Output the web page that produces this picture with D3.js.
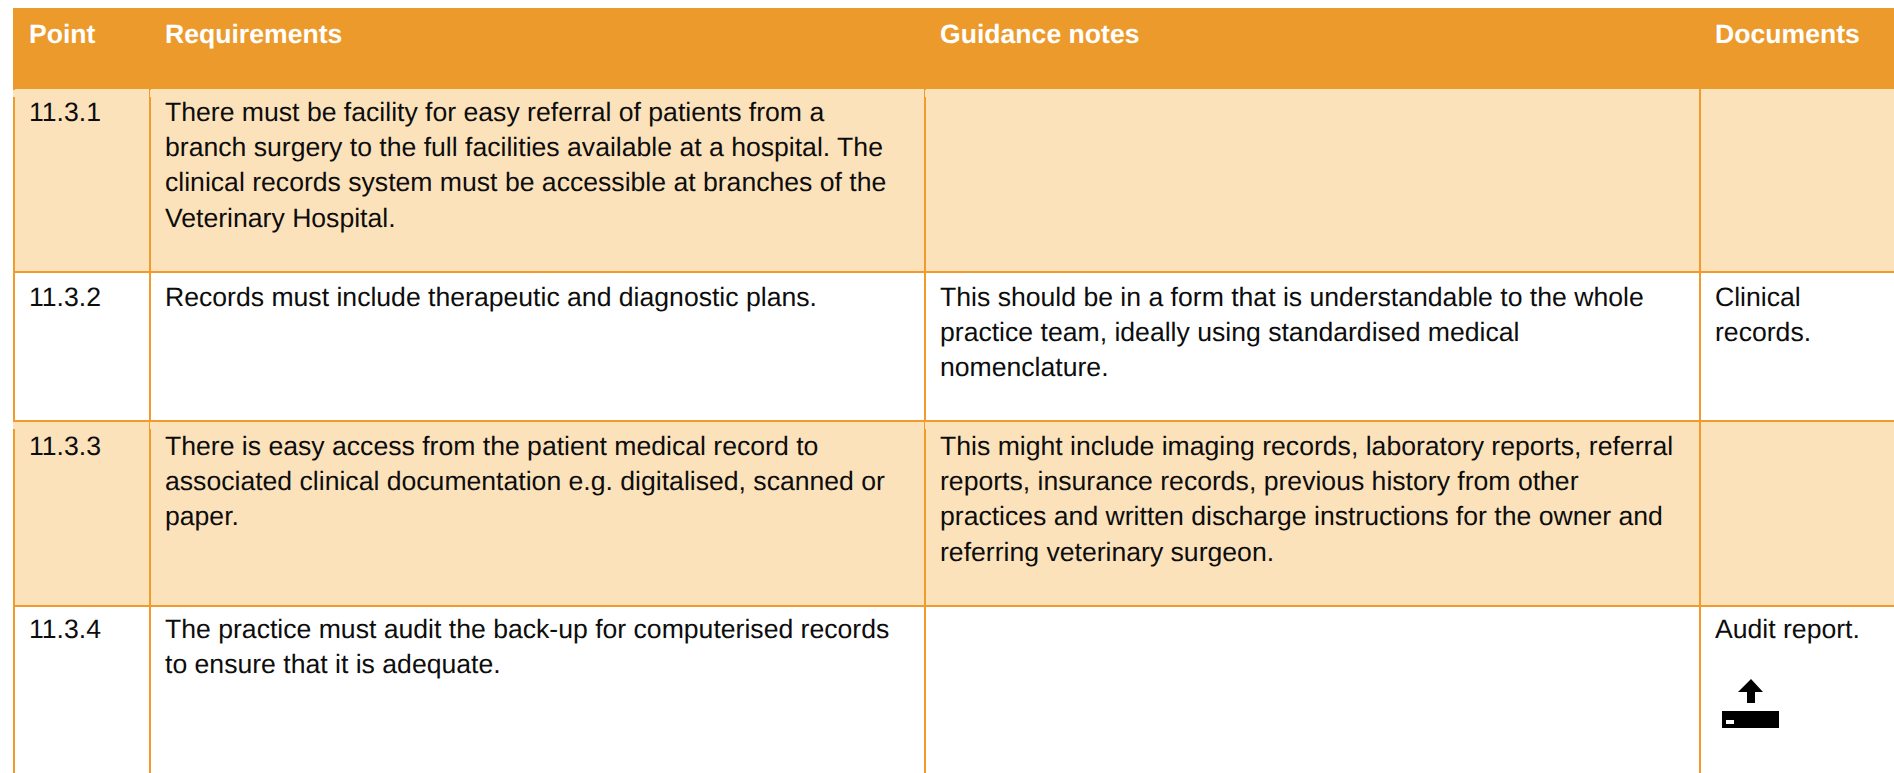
<!DOCTYPE html>
<html>
<head>
<meta charset="utf-8">
<script src="https://cdn.jsdelivr.net/npm/d3@7"></script>
<style>
html, body { margin: 0; padding: 0; background: #fff; overflow: hidden; }
text { font-family: "Liberation Sans", Arial, sans-serif; font-size: 26.6px; fill: #0d0d0d; text-rendering: geometricPrecision; }
.head { font-weight: bold; fill: #fff; }
</style>
</head>
<body>
<svg id="chart" width="1894" height="773"></svg>
<script>
const headers = ['Point', 'Requirements', 'Guidance notes', 'Documents'];
const points = ['11.3.1', '11.3.2', '11.3.3', '11.3.4'];
const requirements = [
    ['There must be facility for easy referral of patients from a', 'branch surgery to the full facilities available at a hospital. The', 'clinical records system must be accessible at branches of the', 'Veterinary Hospital.'],
    ['Records must include therapeutic and diagnostic plans.'],
    ['There is easy access from the patient medical record to', 'associated clinical documentation e.g. digitalised, scanned or', 'paper.'],
    ['The practice must audit the back-up for computerised records', 'to ensure that it is adequate.']
];
const guidance = [
    [],
    ['This should be in a form that is understandable to the whole', 'practice team, ideally using standardised medical', 'nomenclature.'],
    ['This might include imaging records, laboratory reports, referral', 'reports, insurance records, previous history from other', 'practices and written discharge instructions for the owner and', 'referring veterinary surgeon.'],
    []
];
const documents = [[], ['Clinical', 'records.'], [], ['Audit report.']];

const columnEdges = [14, 150, 925, 1700];
const rowEdges = [89, 272, 421, 606, 773];
const rowBaselines = [121, 306, 455, 638];
const orange = '#ed9a2c', lineOrange = '#f19b2d', light = '#fce2bb';
const lineHeight = 35.2;

const svg = d3.select('#chart');

// Row backgrounds, every other row is tinted
svg.selectAll('.row')
    .data(points)
    .enter().append('rect')
    .attr('x', 14)
    .attr('y', (d, i) => rowEdges[i])
    .attr('width', 1880)
    .attr('height', (d, i) => rowEdges[i + 1] - rowEdges[i])
    .attr('fill', (d, i) => i % 2 === 0 ? light : '#fff');

// Grid lines
svg.selectAll('.hline')
    .data(rowEdges.slice(1, 4))
    .enter().append('line')
    .attr('x1', 13).attr('x2', 1894)
    .attr('y1', d => d).attr('y2', d => d)
    .attr('stroke', lineOrange).attr('stroke-width', 2);
svg.selectAll('.vline')
    .data(columnEdges)
    .enter().append('line')
    .attr('x1', d => d).attr('x2', d => d)
    .attr('y1', 89).attr('y2', 773)
    .attr('stroke', lineOrange).attr('stroke-width', 2);

// The tinted rows cut the first few pixels of the lines: hairline inside, none on the left edge
[rowEdges[0], rowEdges[2]].forEach(top => {
    columnEdges.slice(1, 3).forEach(x => {
        svg.append('rect')
            .attr('x', x).attr('y', top + 1)
            .attr('width', 1.2).attr('height', 7)
            .attr('fill', light);
    });
    svg.append('rect')
        .attr('x', columnEdges[0] - 1).attr('y', top + 1)
        .attr('width', 2).attr('height', 7)
        .attr('fill', light);
});

// Header band
svg.append('rect').attr('x', 13).attr('y', 8).attr('width', 1881).attr('height', 81).attr('fill', orange);
svg.selectAll('.head')
    .data(headers)
    .enter().append('text')
    .attr('class', 'head')
    .attr('x', (d, i) => columnEdges[i] + 15)
    .attr('y', 43)
    .text(d => d);

// Cell text
const columns = [points.map(p => [p]), requirements, guidance, documents];
columns.forEach((col, c) => {
    col.forEach((lines, r) => {
        svg.append('g').selectAll('text')
            .data(lines)
            .enter().append('text')
            .attr('x', columnEdges[c] + 15)
            .attr('y', (d, i) => rowBaselines[r] + i * lineHeight)
            .text(d => d);
    });
});

// Upload icon under "Audit report."
const icon = svg.append('g').attr('transform', 'translate(1722,679)');
icon.append('path').attr('d', 'M29 0 L41 13 L33 13 L33 24 L25 24 L25 13 L16 13 Z').attr('fill', '#000');
icon.append('rect').attr('x', 0).attr('y', 32).attr('width', 57).attr('height', 17).attr('fill', '#000');
icon.append('rect').attr('x', 4).attr('y', 41).attr('width', 8).attr('height', 4).attr('fill', '#fff');
</script>
</body>
</html>
